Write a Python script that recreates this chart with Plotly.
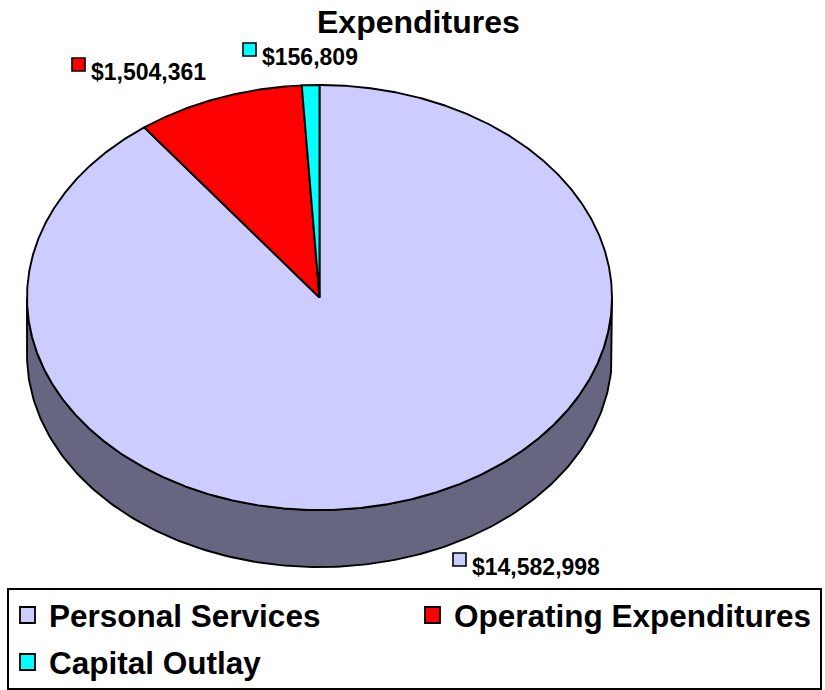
import numpy as np
import plotly.graph_objects as go

# ---- data ----
categories = ["Personal Services", "Operating Expenditures", "Capital Outlay"]
values = [14582998, 1504361, 156809]
top_colors = ["#CCCCFF", "#FF0000", "#00FFFF"]
side_colors = ["#666680", "#800000", "#008080"]
title_text = "Expenditures"

# ---- layout / style (pixel space) ----
W, H = 825, 690
CX, CY = 319.5, 297.5
RX, RY = 292.5, 212.5
DEPTH = 57
FONT = "Liberation Sans, Arial, sans-serif"
LINE_W = 1.9

# label placement (square marker left edge, text vertical centre)
label_pos = [(453, 566), (72, 71), (243, 56)]
# legend item placement (square left edge, row centre)
legend_pos = [(20, 615), (425, 615), (20, 662)]

fig = go.Figure()

total = float(sum(values))
fracs = [v / total for v in values]
# slices start at 12 o'clock and go clockwise
bounds = []
cum = 0.0
for f in fracs:
    a_start = 90 - cum * 360
    cum += f
    a_end = 90 - cum * 360
    bounds.append((a_end, a_start))  # increasing order


def ell(a_deg, dy=0.0):
    a = np.radians(a_deg)
    return CX + RX * np.cos(a), CY - RY * np.sin(a) + dy


# side walls (front half: angles between -180 and 0, mod 360)
for (lo, hi), sc in zip(bounds, side_colors):
    for k in (-1, 0, 1):
        s_lo, s_hi = -180 + 360 * k, 0 + 360 * k
        a1, a2 = max(lo, s_lo), min(hi, s_hi)
        if a2 - a1 <= 0:
            continue
        t = np.linspace(a1, a2, 200)
        xt, yt = ell(t)
        xb, yb = ell(t[::-1], DEPTH)
        xs = np.concatenate([xt, xb, xt[:1]])
        ys = np.concatenate([yt, yb, yt[:1]])
        fig.add_trace(go.Scatter(x=xs, y=ys, mode="lines", fill="toself",
                                 fillcolor=sc, line=dict(color="black", width=LINE_W),
                                 hoverinfo="skip", showlegend=False))

# top faces
for (lo, hi), tc, name, v in zip(bounds, top_colors, categories, values):
    n = max(int((hi - lo) * 3), 8)
    t = np.linspace(hi, lo, n)
    xa, ya = ell(t)
    xs = np.concatenate([[CX], xa, [CX]])
    ys = np.concatenate([[CY], ya, [CY]])
    fig.add_trace(go.Scatter(x=xs, y=ys, mode="lines", fill="toself",
                             fillcolor=tc, line=dict(color="black", width=LINE_W),
                             name=name, text=f"{name}: ${v:,}", hoverinfo="text",
                             showlegend=False))

shapes = []
annotations = []

# data labels
for v, tc, (lx, ly) in zip(values, top_colors, label_pos):
    shapes.append(dict(type="rect", xref="x", yref="y", x0=lx, x1=lx + 13,
                       y0=ly - 13, y1=ly, fillcolor=tc,
                       line=dict(color="black", width=1.6)))
    annotations.append(dict(x=lx + 17, y=ly + 1, xref="x", yref="y", text=f"<b>${v:,}</b>",
                            showarrow=False, xanchor="left", yanchor="middle",
                            font=dict(family=FONT, size=23, color="black")))

# legend box
shapes.append(dict(type="rect", xref="x", yref="y", x0=8, x1=821, y0=589, y1=689,
                   fillcolor="rgba(0,0,0,0)", line=dict(color="black", width=2)))
for name, tc, (lx, ly) in zip(categories, top_colors, legend_pos):
    shapes.append(dict(type="rect", xref="x", yref="y", x0=lx, x1=lx + 15,
                       y0=ly - 8, y1=ly + 8, fillcolor=tc,
                       line=dict(color="black", width=1.8)))
    annotations.append(dict(x=lx + 27, y=ly + 1, xref="x", yref="y", text=f"<b>{name}</b>",
                            showarrow=False, xanchor="left", yanchor="middle",
                            font=dict(family=FONT, size=31.5, color="black")))

# title
annotations.append(dict(x=418, y=22, xref="x", yref="y", text=f"<b>{title_text}</b>",
                        showarrow=False, xanchor="center", yanchor="middle",
                        font=dict(family=FONT, size=32, color="black")))

fig.update_layout(
    width=W, height=H,
    margin=dict(l=0, r=0, t=0, b=0),
    paper_bgcolor="white", plot_bgcolor="white",
    xaxis=dict(range=[0, W], visible=False, fixedrange=True),
    yaxis=dict(range=[H, 0], visible=False, fixedrange=True),
    shapes=shapes, annotations=annotations,
    showlegend=False,
)

fig.write_html("out.html")
